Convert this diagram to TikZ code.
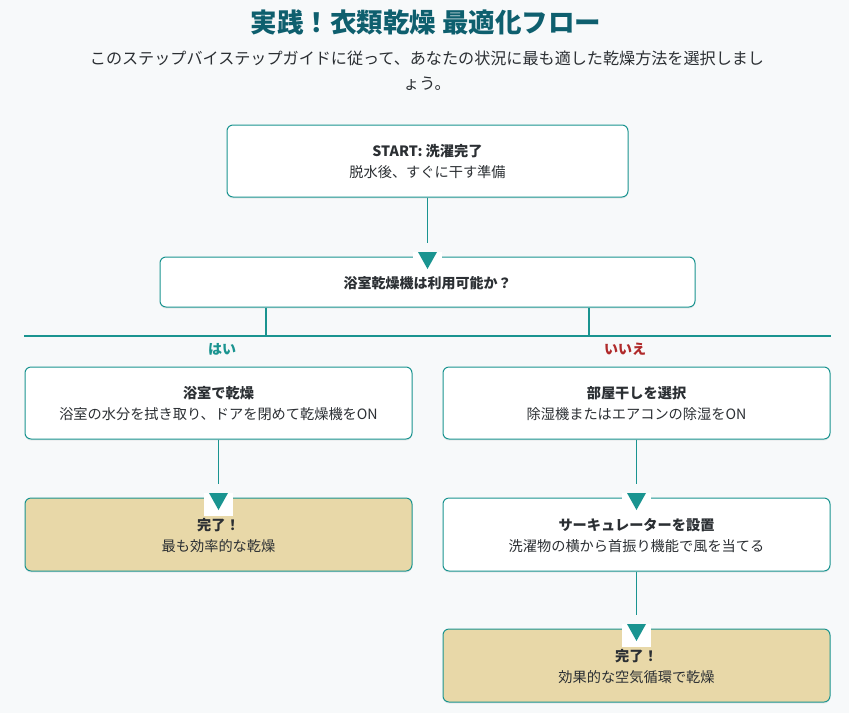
\documentclass[tikz,border=0pt]{standalone}
\usepackage{fontspec}
\setmainfont{Noto Sans CJK JP}
\usepackage{tikz}
\usetikzlibrary{positioning,shadows}

\definecolor{bgc}{HTML}{F7F9FA}
\definecolor{tealc}{HTML}{1A9490}
\definecolor{titlec}{HTML}{0E5F6E}
\definecolor{noc}{HTML}{B02A2A}
\definecolor{donec}{HTML}{E8D8A8}
\definecolor{textc}{HTML}{2B2F33}

\tikzset{
  stepbox/.style={draw=tealc, line width=1pt, rounded corners=6pt, fill=white,
    align=center, text=textc, inner sep=0pt,
    drop shadow={shadow xshift=0pt, shadow yshift=-1.5pt, opacity=.12}},
  donebox/.style={stepbox, fill=donec},
  flow/.style={draw=tealc, line width=1pt},
  branch/.style={draw=tealc, line width=2pt},
  tipbox/.style={fill=white, inner sep=0pt, minimum width=29pt, minimum height=23pt,
    path picture={\fill[tealc] ([xshift=-9.5pt]path picture bounding box.north)
      -- ([xshift=9.5pt]path picture bounding box.north)
      -- ([yshift=-17pt]path picture bounding box.north) -- cycle;}},
  ttl/.style={font=\fontsize{14}{21}\selectfont\bfseries, text depth=-2pt},
  sub/.style={font=\fontsize{14.2}{21}\selectfont, text depth=-4pt},
  answer/.style={inner xsep=6pt, inner ysep=2pt, font=\fontsize{14}{16}\selectfont\bfseries},
}

\begin{document}
\begin{tikzpicture}[x=1pt, y=-1pt]
\fill[bgc] (0,0) rectangle (849,713);
\useasboundingbox (0,0) rectangle (849,713);

% heading
\node[text=titlec, font=\fontsize{26.5}{30}\selectfont\bfseries] (head) at (426,22) {実践！衣類乾燥 最適化フロー};
\node[text=textc, align=center, font=\fontsize{16.1}{25}\selectfont] (intro) at (427,71)
  {このステップバイステップガイドに従って、あなたの状況に最も適した乾燥方法を選択しまし\\ょう。};

% boxes
\node[stepbox, minimum width=401pt, minimum height=72pt, sub] (start) at (427.5,161)
  {\textbf{START: 洗濯完了}\\脱水後、すぐに干す準備};
\node[stepbox, minimum width=535pt, minimum height=50pt, ttl] (q) at (427.5,282) {浴室乾燥機は利用可能か？};

\node[stepbox, minimum width=387pt, minimum height=72pt, sub] (bath) at (218.5,403)
  {\textbf{浴室で乾燥}\\浴室の水分を拭き取り、ドアを閉めて乾燥機をON};
\node[stepbox, minimum width=387pt, minimum height=72pt, sub] (room) at (636.5,403)
  {\textbf{部屋干しを選択}\\除湿機またはエアコンの除湿をON};

\node[donebox, minimum width=387pt, minimum height=73pt, sub] (done1) at (218.5,534.5)
  {\textbf{完了！}\\最も効率的な乾燥};
\node[stepbox, minimum width=387pt, minimum height=73pt, sub] (fan) at (636.5,534.5)
  {\textbf{サーキュレーターを設置}\\洗濯物の横から首振り機能で風を当てる};
\node[donebox, minimum width=387pt, minimum height=73pt, sub] (done2) at (636.5,665.5)
  {\textbf{完了！}\\効果的な空気循環で乾燥};

% branch
\coordinate (bl) at (24,336);
\coordinate (br) at (831,336);
\draw[branch] (bl) -- (br);
\draw[branch] (q.south -| 266,0) -- (266,336);
\draw[branch] (q.south -| 589,0) -- (589,336);
\node[answer, text=tealc] (yes) at (222,349) {はい};
\node[answer, text=noc] (no) at (625,349) {いいえ};

% arrows
\node[tipbox] (t1) at (427.5,263.5) {};
\node[tipbox] (t2) at (218.5,504.5) {};
\node[tipbox] (t3) at (636.5,504.5) {};
\node[tipbox] (t4) at (636.5,635.5) {};
\draw[flow, shorten >=9pt] (start.south) -- (t1.north);
\draw[flow, shorten >=9pt] (bath.south) -- (t2.north);
\draw[flow, shorten >=9pt] (room.south) -- (t3.north);
\draw[flow, shorten >=9pt] (fan.south) -- (t4.north);

\end{tikzpicture}
\end{document}
